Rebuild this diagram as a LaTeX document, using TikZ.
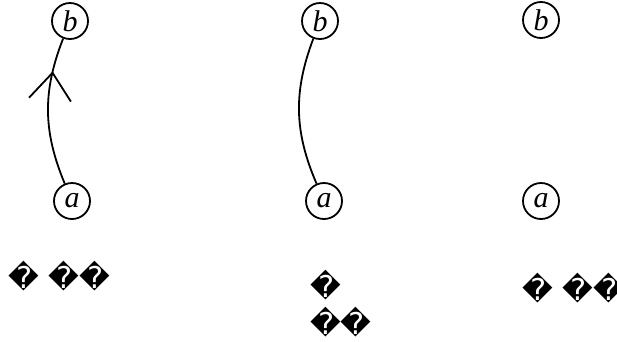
\documentclass[tikz,border=0pt]{standalone}
\usepackage{fontspec}
\setmainfont{Liberation Serif}
\newfontfamily\glyphfont{DejaVu Sans}
\usetikzlibrary{arrows.meta,decorations.markings}
\tikzset{
  vertex/.style={draw,line width=1.8pt,circle,inner sep=0pt,minimum size=36pt,
    font=\fontsize{30}{30}\selectfont\itshape},
  edge/.style={line width=1.8pt},
  midarrow/.style={postaction={decorate},decoration={markings,
    mark=at position #1 with {\pgftransformrotate{8}%
      \arrow{Straight Barb[length=27pt,width=42pt,line width=1.8pt]}}}},
  caption/.style={inner sep=0pt,font=\fontsize{30}{37}\selectfont\glyphfont}
}
\begin{document}
\begin{tikzpicture}[x=1pt,y=-1pt]
\useasboundingbox (0,0) rectangle (617,341);
% first pair, with arrow
\node[vertex] (a1) at (72,201) {a};
\node[vertex] (b1) at (70,21) {b};
\draw[edge,midarrow=0.77] (a1) to[bend left=22] (b1);
\node[caption,anchor=west] (c1) at (8,276) {� ��};
% second pair, plain curve
\node[vertex] (a2) at (324,201) {a};
\node[vertex] (b2) at (320,21) {b};
\draw[edge] (a2) to[bend left=22] (b2);
\node[caption,anchor=north west,align=left] (c2) at (310,270) {�\\��};
% third pair, no edge
\node[vertex] (a3) at (541,201) {a};
\node[vertex] (b3) at (541,20) {b};
\node[caption,anchor=west] (c3) at (522,288) {� ��};
\end{tikzpicture}
\end{document}
